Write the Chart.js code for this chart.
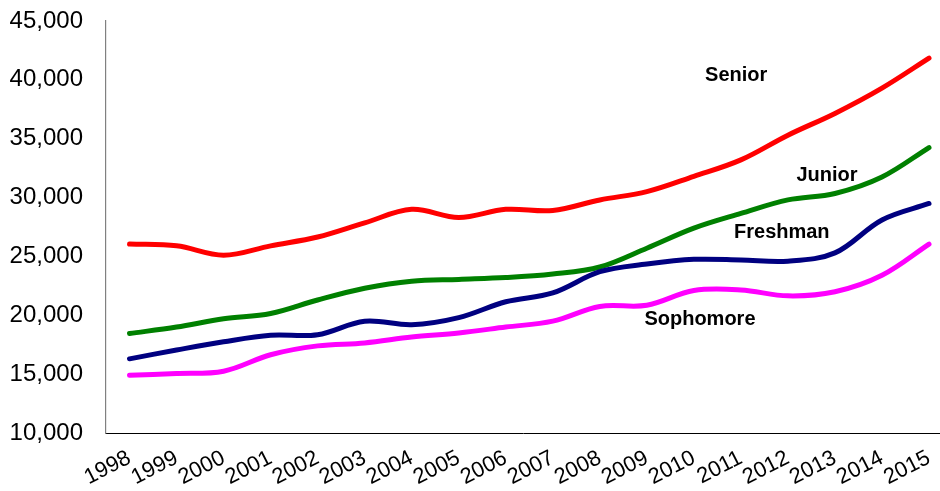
<!DOCTYPE html>
<html>
<head>
<meta charset="utf-8">
<script src="https://cdn.jsdelivr.net/npm/chart.js@4.4.1/dist/chart.umd.min.js"></script>
<style>
  html, body { margin: 0; padding: 0; background: #fff; }
  #wrap { width: 940px; height: 491px; }
</style>
</head>
<body>
<div id="wrap"><canvas id="chart"></canvas></div>
<script>
const years = [1998, 1999, 2000, 2001, 2002, 2003, 2004, 2005, 2006, 2007, 2008, 2009, 2010, 2011, 2012, 2013, 2014, 2015];
const senior = [26050, 25900, 25100, 25900, 26650, 27850, 29000, 28300, 29000, 28900, 29800, 30500, 31800, 33200, 35300, 37150, 39300, 41850];
const junior = [18450, 19000, 19700, 20150, 21300, 22300, 22900, 23050, 23200, 23500, 24100, 25700, 27400, 28650, 29800, 30350, 31750, 34250];
const freshman = [16300, 17050, 17750, 18300, 18350, 19500, 19200, 19800, 21150, 21900, 23700, 24350, 24750, 24700, 24600, 25300, 28100, 29500];
const sophomore = [14900, 15050, 15250, 16650, 17400, 17650, 18150, 18500, 19000, 19500, 20750, 20850, 22100, 22150, 21650, 22000, 23400, 26050];
const yTicks = [10000, 15000, 20000, 25000, 30000, 35000, 40000, 45000];

// series name labels, placed in data units
const seriesLabels = [
    { text: "Senior", x: 2010.9, y: 40400 },
    { text: "Junior", x: 2012.83, y: 31900 },
    { text: "Freshman", x: 2011.87, y: 27000 },
    { text: "Sophomore", x: 2010.13, y: 19650 }
];

const toPoints = (vals) => vals.map((v, i) => ({ x: years[i], y: v }));

const makeSet = (label, vals, color) => ({
    label: label,
    data: toPoints(vals),
    borderColor: color,
    backgroundColor: color,
    borderWidth: 5,
    pointRadius: 0,
    tension: 0.35,
    fill: false,
    borderCapStyle: "round"
});

const labelPlugin = {
    id: "seriesLabels",
    afterDatasetsDraw(chart) {
        const ctx = chart.ctx;
        const xs = chart.scales.x;
        const ys = chart.scales.y;
        ctx.save();
        ctx.font = "bold 20px 'Liberation Sans', Arial, sans-serif";
        ctx.fillStyle = "#000";
        ctx.textAlign = "center";
        ctx.textBaseline = "middle";
        for (const l of seriesLabels) {
            ctx.fillText(l.text, xs.getPixelForValue(l.x), ys.getPixelForValue(l.y));
        }
        ctx.restore();
    }
};

const config = {
    type: "line",
    data: {
        datasets: [
            makeSet("Sophomore", sophomore, "#FF00FF"),
            makeSet("Freshman", freshman, "#000080"),
            makeSet("Junior", junior, "#008000"),
            makeSet("Senior", senior, "#FF0000")
        ]
    },
    options: {
        responsive: true,
        maintainAspectRatio: false,
        animation: false,
        layout: { padding: { top: 21, right: 0, left: 0, bottom: 0 } },
        plugins: {
            legend: { display: false },
            tooltip: { enabled: false }
        },
        scales: {
            x: {
                type: "linear",
                min: 1997.5,
                max: 2015.234,
                grid: { display: false, drawTicks: false },
                border: { display: true, color: "#000", width: 1 },
                afterBuildTicks: (scale) => {
                    scale.ticks = years.map(v => ({ value: v }));
                },
                afterFit: (scale) => {
                    scale.height = 58;
                    scale.paddingRight = 0;
                },
                ticks: {
                    autoSkip: false,
                    maxRotation: 27,
                    minRotation: 27,
                    padding: 12,
                    color: "#000",
                    font: { family: "'Liberation Sans', Arial, sans-serif", size: 22 },
                    callback: (v) => String(v)
                }
            },
            y: {
                min: 10000,
                max: 45000,
                grid: { display: false, drawTicks: false },
                border: { display: true, color: "#808080", width: 1.2 },
                afterBuildTicks: (scale) => {
                    scale.ticks = yTicks.map(v => ({ value: v }));
                },
                afterFit: (scale) => {
                    scale.width = 106;
                    scale.paddingTop = 0;
                    scale.paddingBottom = 0;
                },
                ticks: {
                    padding: 23,
                    color: "#000",
                    font: { family: "'Liberation Sans', Arial, sans-serif", size: 24 },
                    callback: (v) => v.toLocaleString("en-US")
                }
            }
        }
    },
    plugins: [labelPlugin]
};

new Chart(document.querySelector("#chart"), config);
</script>
</body>
</html>
